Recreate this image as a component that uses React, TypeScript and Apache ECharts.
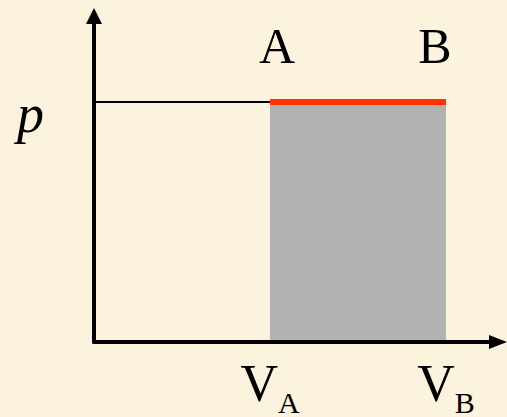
import React, { useEffect, useRef } from 'react';
import * as echarts from 'echarts';

// Data
const stateNames = ['A', 'B'];
const volumeValues = [2, 4]; // V_A, V_B
const volumeSubscripts = ['A', 'B'];
const pressureValue = 3;
const pressureLabel = 'p';
const xMax = 4.5;
const yMax = 4;

// Styling helpers (not data)
const stateLabelNudges = [[7, 0], [-11, 0]];
const SERIF = 'Liberation Serif';

export default function App() {
  const ref = useRef<HTMLDivElement>(null);

  useEffect(() => {
    if (!ref.current) return;
    const chart = echarts.init(ref.current, null, { renderer: 'svg' });
    chart.setOption({
      animation: false,
      backgroundColor: '#FCF3DE',
      grid: { left: 94, right: 17, top: 22, bottom: 75, containLabel: false, outerBoundsMode: 'none' },
      xAxis: {
        type: 'value',
        min: 0,
        max: xMax,
        z: 5,
        axisLine: {
          show: true,
          onZero: true,
          lineStyle: { color: '#000', width: 4 },
          symbol: ['none', 'triangle'],
          symbolSize: [14, 18],
          symbolOffset: [0, 8],
        },
        axisTick: { show: false },
        splitLine: { show: false },
        axisLabel: {
          customValues: volumeValues,
          margin: 15,
          hideOverlap: false,
          formatter: (v: number) => {
            const i = volumeValues.indexOf(v);
            return `{v|V}{s|${volumeSubscripts[i]}}`;
          },
          rich: {
            v: { fontFamily: SERIF, fontSize: 52, lineHeight: 56, verticalAlign: 'top', color: '#000' },
            s: { fontFamily: SERIF, fontSize: 30, lineHeight: 26, verticalAlign: 'top', padding: [30, 0, 0, 0], color: '#000' },
          },
        },
      },
      yAxis: {
        type: 'value',
        min: 0,
        max: yMax,
        z: 5,
        axisLine: {
          show: true,
          lineStyle: { color: '#000', width: 4 },
          symbol: ['none', 'triangle'],
          symbolSize: [16, 16],
          symbolOffset: [0, 6],
        },
        axisTick: { show: false },
        splitLine: { show: false },
        axisLabel: {
          customValues: [pressureValue],
          margin: 50,
          fontFamily: SERIF,
          fontStyle: 'italic',
          fontSize: 54,
          color: '#000',
          formatter: () => `{p|${pressureLabel}}`,
          rich: {
            p: { fontFamily: SERIF, fontStyle: 'italic', fontWeight: 'normal', fontSize: 54, lineHeight: 54, padding: [24, 0, 0, 0], color: '#000' },
          },
        },
      },
      series: [
        {
          type: 'line',
          data: [[0, pressureValue], [volumeValues[0], pressureValue]],
          symbol: 'none',
          silent: true,
          lineStyle: { color: '#000', width: 2 },
          z: 1,
        },
        {
          type: 'line',
          data: volumeValues.map((v, i) => ({
            value: [v, pressureValue],
            name: stateNames[i],
            label: { offset: stateLabelNudges[i] },
          })),
          symbol: 'circle',
          symbolSize: 1,
          silent: true,
          itemStyle: { color: '#FF3300' },
          lineStyle: { color: '#FF3300', width: 6 },
          areaStyle: { color: '#B2B2B2', opacity: 1 },
          label: {
            show: true,
            position: 'top',
            distance: 31,
            formatter: '{b}',
            fontFamily: SERIF,
            fontSize: 50,
            color: '#000',
          },
          z: 2,
        },
      ],
    });
    return () => chart.dispose();
  }, []);

  return (
    <div
      ref={ref}
      style={{ position: 'fixed', left: 0, top: 0, width: 507, height: 417 }}
    />
  );
}
